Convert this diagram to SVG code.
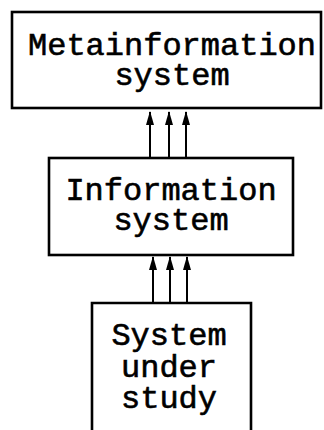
<svg xmlns="http://www.w3.org/2000/svg" width="324" height="430" viewBox="0 0 324 430">
<defs>
<marker id="ah" markerWidth="14" markerHeight="8" refX="13" refY="4" orient="auto" markerUnits="userSpaceOnUse" viewBox="0 0 14 8">
<path d="M0,0 L14,4 L0,8 Z" fill="#000"/>
</marker>
</defs>
<style>
.box{fill:#fff;stroke:#000;stroke-width:2.6}
.t{font-family:"Liberation Mono","Courier New",monospace;font-size:32px;fill:#000;stroke:#000;stroke-width:0.6;text-anchor:middle}
.c{stroke:#000;stroke-width:2;fill:none}
</style>
<rect width="324" height="430" fill="#fff"/>
<g id="meta">
<rect class="box" x="12" y="12" width="309" height="96"/>
<text class="t" x="172" y="55">Metainformation</text>
<text class="t" x="172" y="85">system</text>
</g>
<g id="info">
<rect class="box" x="49" y="158" width="244" height="97"/>
<text class="t" x="171" y="200">Information</text>
<text class="t" x="171" y="230">system</text>
</g>
<g id="sus">
<path class="box" d="M92,432 V303 H251 V432"/>
<text class="t" x="169" y="345">System</text>
<text class="t" x="169" y="377">under</text>
<text class="t" x="169" y="408">study</text>
</g>
<g id="connectors">
<line class="c" x1="150" y1="158" x2="150" y2="112" marker-end="url(#ah)"/>
<line class="c" x1="169" y1="158" x2="169" y2="112" marker-end="url(#ah)"/>
<line class="c" x1="186" y1="158" x2="186" y2="112" marker-end="url(#ah)"/>
<line class="c" x1="153" y1="303" x2="153" y2="257" marker-end="url(#ah)"/>
<line class="c" x1="170" y1="303" x2="170" y2="257" marker-end="url(#ah)"/>
<line class="c" x1="187" y1="303" x2="187" y2="257" marker-end="url(#ah)"/>
</g>
</svg>
